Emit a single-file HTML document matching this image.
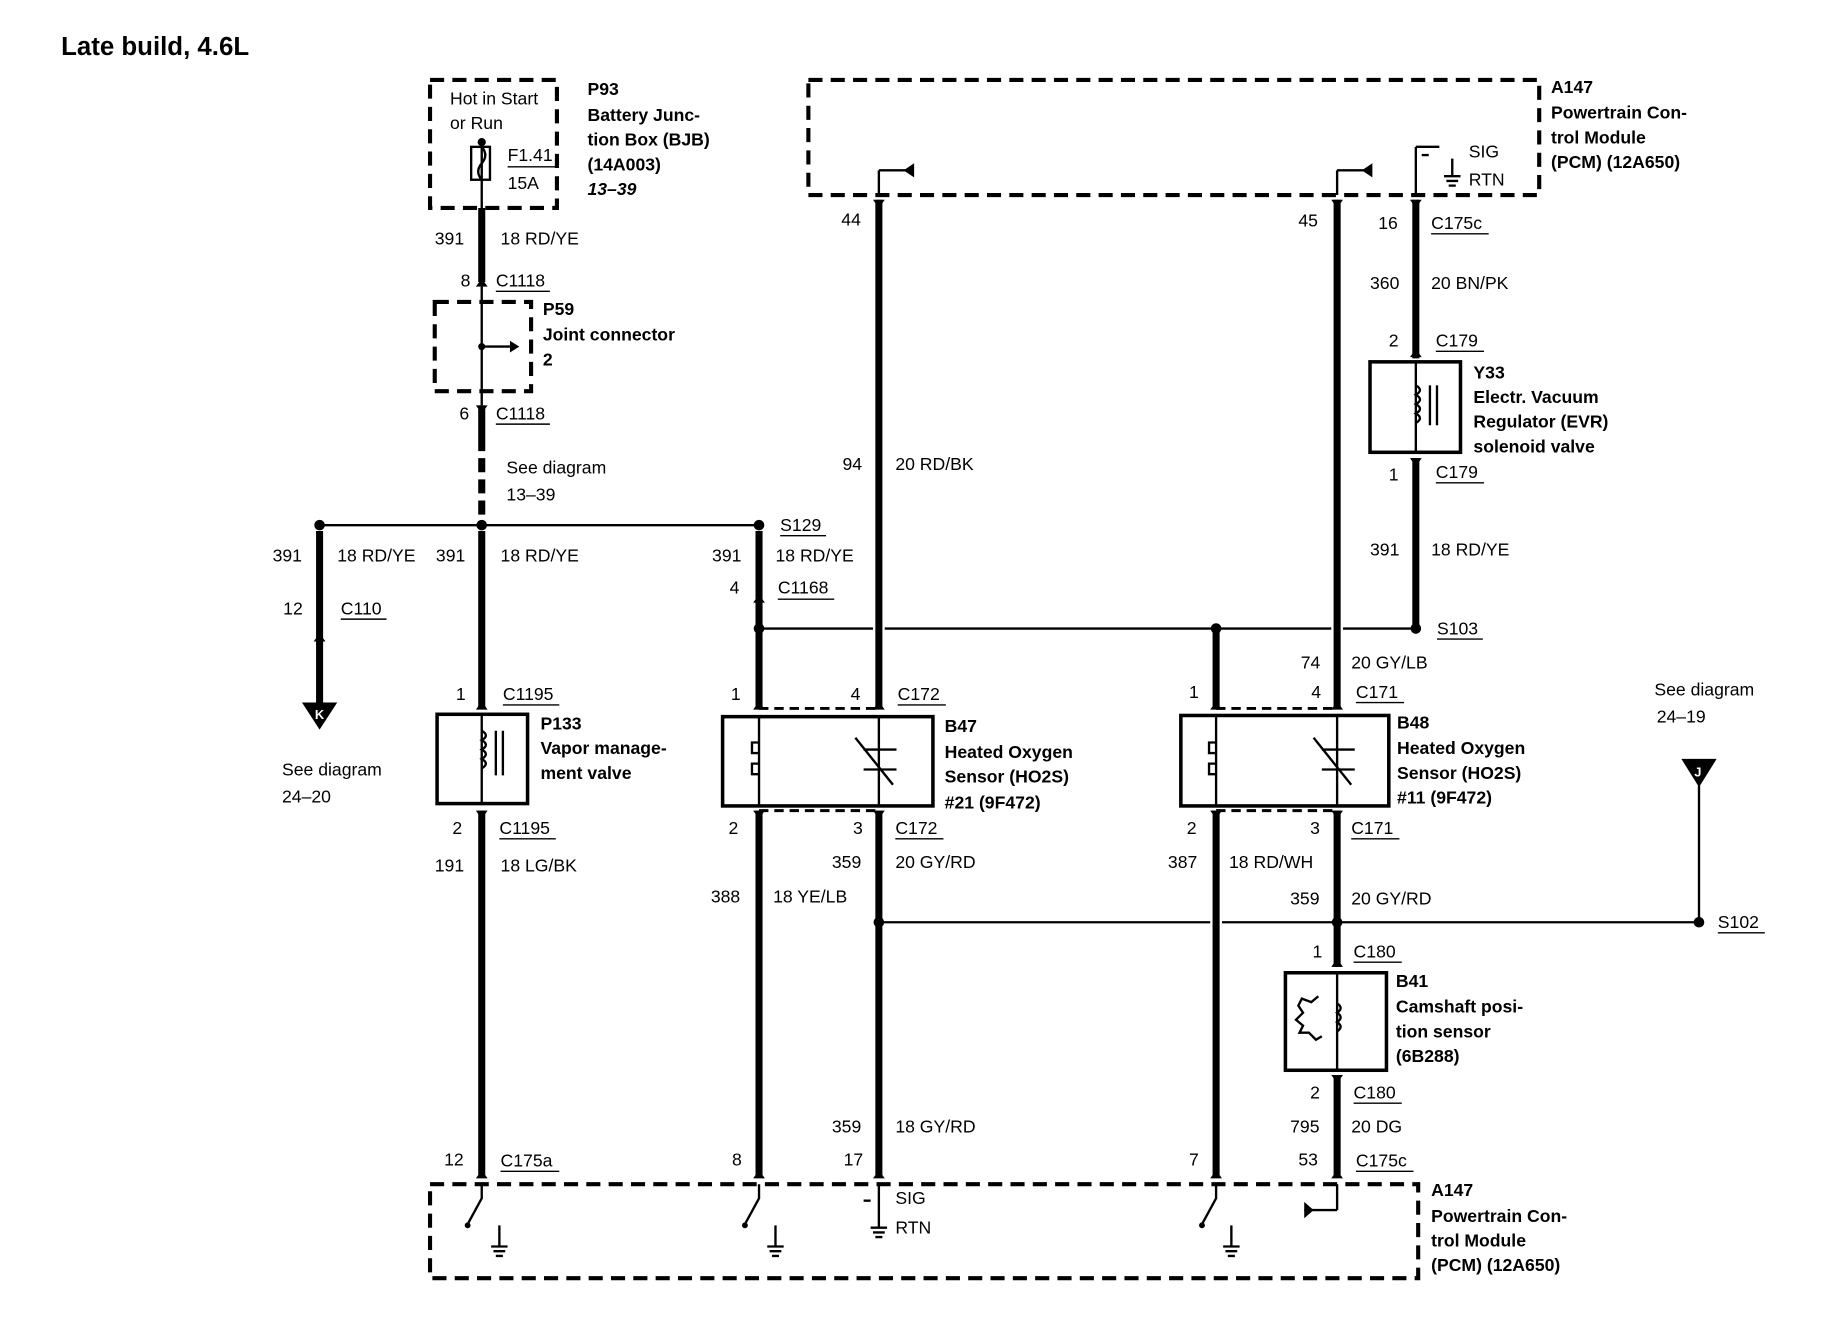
<!DOCTYPE html>
<html><head><meta charset="utf-8"><style>
html,body{margin:0;padding:0;background:#fff;}
svg{display:block;}
text{font-family:"Liberation Sans",Arial,sans-serif;font-size:15px;fill:#000;}
.b{font-weight:bold;}
</style></head><body>
<svg width="1840" height="1344" viewBox="0 0 1566 1144" preserveAspectRatio="none" xmlns="http://www.w3.org/2000/svg">
<g fill="none" stroke="#000">
<rect x="366" y="68" width="108" height="109" stroke-width="3.5" stroke-dasharray="12,7"/>
<rect x="370" y="257" width="82" height="76" stroke-width="3.5" stroke-dasharray="12,7"/>
<rect x="688" y="68" width="622" height="98" stroke-width="3.5" stroke-dasharray="12,7"/>
<rect x="366" y="1008" width="841" height="80" stroke-width="3.5" stroke-dasharray="12,7"/>
<g stroke-width="6">
<line x1="410" y1="177" x2="410" y2="240"/>
<line x1="410" y1="345" x2="410" y2="372"/>
<line x1="410" y1="372" x2="410" y2="440" stroke-dasharray="12,6"/>
<line x1="410" y1="452" x2="410" y2="603"/>
<line x1="410" y1="690" x2="410" y2="1000"/>
<line x1="272" y1="452" x2="272" y2="598"/>
<line x1="646" y1="452" x2="646" y2="603"/>
<line x1="646" y1="690" x2="646" y2="1000"/>
<line x1="748" y1="170" x2="748" y2="603"/>
<line x1="748" y1="690" x2="748" y2="1000"/>
<line x1="1138" y1="170" x2="1138" y2="603"/>
<line x1="1138" y1="690" x2="1138" y2="823"/>
<line x1="1138" y1="915" x2="1138" y2="1000"/>
<line x1="1205" y1="170" x2="1205" y2="305"/>
<line x1="1205" y1="390" x2="1205" y2="535"/>
<line x1="1035" y1="535" x2="1035" y2="603"/>
<line x1="1035" y1="690" x2="1035" y2="1000"/>
</g>
<g stroke-width="2">
<line x1="410" y1="121" x2="410" y2="177"/>
<line x1="410" y1="240" x2="410" y2="345"/>
<line x1="410" y1="295" x2="434" y2="295"/>
<line x1="272" y1="447" x2="646" y2="447"/>
<line x1="646" y1="535" x2="743" y2="535"/><line x1="753" y1="535" x2="1133" y2="535"/><line x1="1143" y1="535" x2="1205" y2="535"/>
<line x1="748" y1="785" x2="1030" y2="785"/><line x1="1040" y1="785" x2="1446" y2="785"/>
<line x1="1446" y1="668" x2="1446" y2="785"/>
<line x1="748" y1="166" x2="748" y2="145"/><line x1="748" y1="145" x2="776" y2="145"/>
<line x1="1138" y1="166" x2="1138" y2="145"/><line x1="1138" y1="145" x2="1166" y2="145"/>
<line x1="1205" y1="166" x2="1205" y2="125"/><line x1="1205" y1="125" x2="1225" y2="125"/>
<line x1="1236" y1="135" x2="1236" y2="150"/>
<line x1="1138" y1="1008" x2="1138" y2="1030"/><line x1="1138" y1="1030" x2="1110" y2="1030"/>
<line x1="748" y1="1008" x2="748" y2="1045"/>
</g>
<g stroke-width="2.5" stroke-dasharray="8,5">
<line x1="646" y1="603" x2="748" y2="603"/><line x1="646" y1="690" x2="748" y2="690"/>
<line x1="1035" y1="603" x2="1138" y2="603"/><line x1="1035" y1="690" x2="1138" y2="690"/>
</g>
<g stroke-width="3">
<rect x="372" y="608" width="77" height="76"/>
<rect x="615" y="610" width="179" height="76"/>
<rect x="1005" y="609" width="177" height="77"/>
<rect x="1166" y="308" width="77" height="77"/>
<rect x="1094" y="828" width="86" height="83"/>
</g>
<g stroke-width="2">
<rect x="401" y="125" width="16" height="28"/>
<path d="M410 125 q6 7 0 14 q-6 7 0 14"/>
<line x1="410" y1="608" x2="410" y2="684"/>
<path d="M410 622 q7 4 0 8 q7 4 0 8 q7 4 0 8 q7 4 0 8"/>
<line x1="422" y1="622" x2="422" y2="660"/><line x1="428" y1="622" x2="428" y2="660"/>
<line x1="1205" y1="308" x2="1205" y2="385"/>
<path d="M1205 328 q7 4 0 8 q7 4 0 8 q7 4 0 8 q7 4 0 8"/>
<line x1="1217" y1="328" x2="1217" y2="362"/><line x1="1223" y1="328" x2="1223" y2="362"/>
<line x1="646" y1="610" x2="646" y2="686"/>
<path d="M646 632 h-6 v9 h6 M646 650 h-6 v9 h6"/>
<line x1="748" y1="610" x2="748" y2="686"/>
<line x1="735" y1="638" x2="763" y2="638"/><line x1="735" y1="655" x2="763" y2="655"/>
<line x1="728" y1="628" x2="760" y2="668"/>
<line x1="1035" y1="609" x2="1035" y2="686"/>
<path d="M1035 632 h-6 v9 h6 M1035 650 h-6 v9 h6"/>
<line x1="1138" y1="609" x2="1138" y2="686"/>
<line x1="1125" y1="638" x2="1153" y2="638"/><line x1="1125" y1="655" x2="1153" y2="655"/>
<line x1="1118" y1="628" x2="1150" y2="668"/>
<line x1="1138" y1="828" x2="1138" y2="911"/>
<path d="M1138 854 q6 4 0 8 q6 4 0 8 q6 4 0 8"/>
<path d="M1122 848 l-6 5 l-8 -3 l-3 6 l4 6 l-6 6 l6 5 l-3 6 l8 0 l6 6 l5 -3"/>
<path d="M410 1008 v12 l-12 22"/><path d="M646 1008 v12 l-12 22"/><path d="M1035 1008 v12 l-12 22"/>
<path d="M425 1043 v18 M418 1061 h14 M420 1065 h10 M422 1069 h6"/>
<path d="M660 1043 v18 M653 1061 h14 M655 1065 h10 M657 1069 h6"/>
<path d="M1048 1043 v18 M1041 1061 h14 M1043 1065 h10 M1045 1069 h6"/>
<path d="M741 1045 h14 M743 1049 h10 M745 1053 h6"/>
<path d="M1229 150 h14 M1231 154 h10 M1233 158 h6"/>
<line x1="735" y1="1022" x2="741" y2="1022"/>
<line x1="1210" y1="132" x2="1216" y2="132"/>
</g>
</g>
<g fill="#000">
<circle cx="410" cy="121" r="3.5"/><circle cx="410" cy="295" r="3"/>
<path d="M434 290 l8 5 l-8 5z"/>
<circle cx="410" cy="447" r="4.5"/><circle cx="272" cy="447" r="4.5"/><circle cx="646" cy="447" r="4.5"/>
<circle cx="646" cy="535" r="4.5"/><circle cx="1035" cy="535" r="4.5"/><circle cx="1205" cy="535" r="4.5"/>
<circle cx="748" cy="785" r="4.5"/><circle cx="1138" cy="785" r="4.5"/><circle cx="1446" cy="785" r="4.5"/>
<path d="M778 139 l-9 6 l9 6z"/><path d="M1168 139 l-9 6 l9 6z"/>
<path d="M1110 1023 l8 7 l-8 7z"/>
<path d="M257 598 h30 l-15 23z"/>
<path d="M1431 646 h30 l-15 24z"/>
<circle cx="398" cy="1043" r="2.5"/><circle cx="634" cy="1043" r="2.5"/><circle cx="1023" cy="1043" r="2.5"/>
<path d="M405 244 l5 -7 l5 7z"/><path d="M405 345 l5 7 l5 -7z"/>
<path d="M405 604 l5 -7 l5 7z"/><path d="M405 690 l5 7 l5 -7z"/>
<path d="M267 546 l5 -7 l5 7z"/><path d="M641 513 l5 -7 l5 7z"/>
<path d="M743 170 l5 7 l5 -7z"/><path d="M1133 170 l5 7 l5 -7z"/><path d="M1200 170 l5 7 l5 -7z"/>
<path d="M1200 304 l5 -7 l5 7z"/><path d="M1200 390 l5 7 l5 -7z"/>
<path d="M1133 823 l5 -7 l5 7z"/><path d="M1133 915 l5 7 l5 -7z"/>
<path d="M641 604 l5 -7 l5 7z"/><path d="M743 604 l5 -7 l5 7z"/><path d="M1030 604 l5 -7 l5 7z"/><path d="M1133 604 l5 -7 l5 7z"/>
<path d="M641 690 l5 7 l5 -7z"/><path d="M743 690 l5 7 l5 -7z"/><path d="M1030 690 l5 7 l5 -7z"/><path d="M1133 690 l5 7 l5 -7z"/>
<path d="M405 1003 l5 -7 l5 7z"/><path d="M641 1003 l5 -7 l5 7z"/><path d="M743 1003 l5 -7 l5 7z"/><path d="M1030 1003 l5 -7 l5 7z"/><path d="M1133 1003 l5 -7 l5 7z"/>
</g>
<text x="268" y="612" style="font-size:11px;fill:#fff;font-weight:bold">K</text>
<text x="1442" y="661" style="font-size:11px;fill:#fff;font-weight:bold">J</text>
<g stroke="#000" stroke-width="1.2">
<line x1="432" y1="142" x2="474" y2="142"/>
<line x1="422" y1="248" x2="468" y2="248"/><line x1="422" y1="361" x2="468" y2="361"/>
<line x1="664" y1="456" x2="703" y2="456"/><line x1="290" y1="527" x2="329" y2="527"/>
<line x1="662" y1="510" x2="710" y2="510"/><line x1="1223" y1="544" x2="1262" y2="544"/>
<line x1="428" y1="600" x2="476" y2="600"/><line x1="425" y1="714" x2="473" y2="714"/>
<line x1="764" y1="600" x2="805" y2="600"/><line x1="762" y1="714" x2="803" y2="714"/>
<line x1="1154" y1="598" x2="1195" y2="598"/><line x1="1150" y1="714" x2="1191" y2="714"/>
<line x1="1218" y1="199" x2="1267" y2="199"/><line x1="1222" y1="299" x2="1263" y2="299"/><line x1="1222" y1="411" x2="1263" y2="411"/>
<line x1="1152" y1="819" x2="1193" y2="819"/><line x1="1152" y1="939" x2="1193" y2="939"/>
<line x1="426" y1="997" x2="476" y2="997"/><line x1="1154" y1="997" x2="1203" y2="997"/>
<line x1="1462" y1="794" x2="1502" y2="794"/>
</g>
<text x="52" y="47" class="b" style="font-size:22px">Late build, 4.6L</text>
<text x="383" y="89">Hot in Start</text><text x="383" y="110">or Run</text>
<text x="432" y="137">F1.41</text><text x="432" y="161">15A</text>
<text x="500" y="81" class="b">P93</text><text x="500" y="103" class="b">Battery Junc-</text><text x="500" y="124" class="b">tion Box (BJB)</text><text x="500" y="145" class="b">(14A003)</text><text x="500" y="166" class="b" font-style="italic">13–39</text>
<text x="370" y="208">391</text><text x="426" y="208">18 RD/YE</text>
<text x="392" y="244">8</text><text x="422" y="244">C1118</text>
<text x="462" y="268" class="b">P59</text><text x="462" y="290" class="b">Joint connector</text><text x="462" y="311" class="b">2</text>
<text x="391" y="357">6</text><text x="422" y="357">C1118</text>
<text x="431" y="403">See diagram</text><text x="431" y="426">13–39</text>
<text x="664" y="452">S129</text>
<text x="232" y="478">391</text><text x="287" y="478">18 RD/YE</text>
<text x="371" y="478">391</text><text x="426" y="478">18 RD/YE</text>
<text x="606" y="478">391</text><text x="660" y="478">18 RD/YE</text>
<text x="621" y="505">4</text><text x="662" y="505">C1168</text>
<text x="241" y="523">12</text><text x="290" y="523">C110</text>
<text x="1223" y="540">S103</text>
<text x="240" y="660">See diagram</text><text x="240" y="683">24–20</text>
<text x="388" y="596">1</text><text x="428" y="596">C1195</text>
<text x="460" y="621" class="b">P133</text><text x="460" y="642" class="b">Vapor manage-</text><text x="460" y="663" class="b">ment valve</text>
<text x="385" y="710">2</text><text x="425" y="710">C1195</text>
<text x="370" y="742">191</text><text x="426" y="742">18 LG/BK</text>
<text x="378" y="992">12</text><text x="426" y="993">C175a</text>
<text x="622" y="596">1</text><text x="724" y="596">4</text><text x="764" y="596">C172</text>
<text x="804" y="623" class="b">B47</text><text x="804" y="645" class="b">Heated Oxygen</text><text x="804" y="666" class="b">Sensor (HO2S)</text><text x="804" y="688" class="b">#21 (9F472)</text>
<text x="620" y="710">2</text><text x="726" y="710">3</text><text x="762" y="710">C172</text>
<text x="708" y="739">359</text><text x="762" y="739">20 GY/RD</text>
<text x="605" y="768">388</text><text x="658" y="768">18 YE/LB</text>
<text x="716" y="192">44</text><text x="717" y="400">94</text><text x="762" y="400">20 RD/BK</text>
<text x="708" y="964">359</text><text x="762" y="964">18 GY/RD</text>
<text x="623" y="992">8</text><text x="718" y="992">17</text>
<text x="1320" y="79" class="b">A147</text><text x="1320" y="101" class="b">Powertrain Con-</text><text x="1320" y="122" class="b">trol Module</text><text x="1320" y="143" class="b">(PCM) (12A650)</text>
<text x="1250" y="134">SIG</text><text x="1250" y="158">RTN</text>
<text x="1105" y="193">45</text>
<text x="1173" y="195">16</text><text x="1218" y="195">C175c</text>
<text x="1166" y="246">360</text><text x="1218" y="246">20 BN/PK</text>
<text x="1182" y="295">2</text><text x="1222" y="295">C179</text>
<text x="1254" y="322" class="b">Y33</text><text x="1254" y="343" class="b">Electr. Vacuum</text><text x="1254" y="364" class="b">Regulator (EVR)</text><text x="1254" y="385" class="b">solenoid valve</text>
<text x="1182" y="409">1</text><text x="1222" y="407">C179</text>
<text x="1166" y="473">391</text><text x="1218" y="473">18 RD/YE</text>
<text x="1107" y="569">74</text><text x="1150" y="569">20 GY/LB</text>
<text x="1012" y="594">1</text><text x="1116" y="594">4</text><text x="1154" y="594">C171</text>
<text x="1189" y="620" class="b">B48</text><text x="1189" y="642" class="b">Heated Oxygen</text><text x="1189" y="663" class="b">Sensor (HO2S)</text><text x="1189" y="684" class="b">#11 (9F472)</text>
<text x="1010" y="710">2</text><text x="1115" y="710">3</text><text x="1150" y="710">C171</text>
<text x="994" y="739">387</text><text x="1046" y="739">18 RD/WH</text>
<text x="1098" y="770">359</text><text x="1150" y="770">20 GY/RD</text>
<text x="1408" y="592">See diagram</text><text x="1410" y="615">24–19</text>
<text x="1462" y="790">S102</text>
<text x="1117" y="815">1</text><text x="1152" y="815">C180</text>
<text x="1188" y="840" class="b">B41</text><text x="1188" y="862" class="b">Camshaft posi-</text><text x="1188" y="883" class="b">tion sensor</text><text x="1188" y="904" class="b">(6B288)</text>
<text x="1115" y="935">2</text><text x="1152" y="935">C180</text>
<text x="1098" y="964">795</text><text x="1150" y="964">20 DG</text>
<text x="1012" y="992">7</text><text x="1105" y="992">53</text><text x="1154" y="993">C175c</text>
<text x="762" y="1025">SIG</text><text x="762" y="1050">RTN</text>
<text x="1218" y="1018" class="b">A147</text><text x="1218" y="1040" class="b">Powertrain Con-</text><text x="1218" y="1061" class="b">trol Module</text><text x="1218" y="1082" class="b">(PCM) (12A650)</text>
</svg>
</body></html>
